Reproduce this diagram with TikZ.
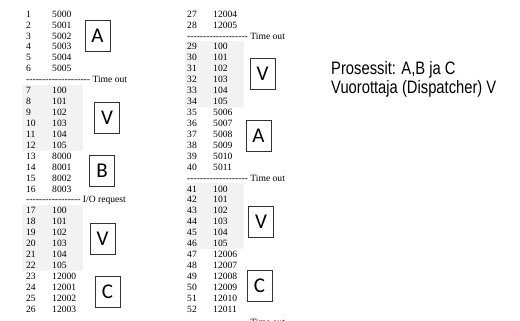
\documentclass[tikz,border=0pt]{standalone}
\usepackage{fontspec}
\newfontfamily\colfont{Liberation Serif}
\newfontfamily\boxfont{Carlito}
\newfontfamily\notefont[FakeStretch=0.82]{Liberation Sans}
\newcommand\hyrow[1]{\foreach \k in {1,...,#1}{-}}
\begin{document}
\begin{tikzpicture}[x=1pt,y=-1pt,
  txt/.style={anchor=west,inner sep=0pt,text height=6.3pt,text depth=0pt,font=\colfont\fontsize{9.6}{10}\selectfont},
  lbox/.style={draw=black!80,line width=0.8pt,minimum width=25pt,minimum height=31pt,inner sep=0pt,font=\boxfont\fontsize{21}{21}\selectfont},
  shade/.style={fill=black!5},
  note/.style={anchor=base west,inner sep=0pt,font=\notefont\fontsize{18}{20}\selectfont}]
\useasboundingbox (0,0) rectangle (520,321);
\def\p{10.93}
% gray backgrounds
\fill[shade] (22,{14+7*\p-5.5}) rectangle (83,{14+12*\p+5.5});
\fill[shade] (22,{14+18*\p-5.5}) rectangle (83,{14+23*\p+5.5});
\fill[shade] (185,{14+3*\p-5.5}) rectangle (244,{14+8*\p+5.5});
\fill[shade] (185,{14+16*\p-5.5}) rectangle (244,{14+21*\p+5.5});
% left column rows
\foreach \i/\n/\v in {0/1/5000,1/2/5001,2/3/5002,3/4/5003,4/5/5004,5/6/5005,
  7/7/100,8/8/101,9/9/102,10/10/103,11/11/104,12/12/105,
  13/13/8000,14/14/8001,15/15/8002,16/16/8003,
  18/17/100,19/18/101,20/19/102,21/20/103,22/21/104,23/22/105,
  24/23/12000,25/24/12001,26/25/12002,27/26/12003}{
  \node[txt] (ln\n) at (26,{14+\i*\p}) {\n};
  \node[txt] (lv\n) at (52,{14+\i*\p}) {\v};
}
\node[txt] (sepA) at (26,{14+6*\p}) {\hyrow{20} Time out};
\node[txt] (sepB) at (26,{14+17*\p}) {\hyrow{17} I/O request};
% right column rows
\foreach \i/\n/\v in {0/27/12004,1/28/12005,
  3/29/100,4/30/101,5/31/102,6/32/103,7/33/104,8/34/105,
  9/35/5006,10/36/5007,11/37/5008,12/38/5009,13/39/5010,14/40/5011,
  16/41/100,17/42/101,18/43/102,19/44/103,20/45/104,21/46/105,
  22/47/12006,23/48/12007,24/49/12008,25/50/12009,26/51/12010,27/52/12011}{
  \node[txt] (rn\n) at (187,{14+\i*\p}) {\n};
  \node[txt] (rv\n) at (213,{14+\i*\p}) {\v};
}
\node[txt] (sepC) at (187,{14+2*\p}) {\hyrow{19} Time out};
\node[txt] (sepD) at (187,{14+15*\p}) {\hyrow{19} Time out};
\node[txt] (sepE) at (187,{16+28*\p}) {\hyrow{19} Time out};
% letter boxes
\node[lbox] (bA1) at (97.5,35.5) {A};
\node[lbox] (bV1) at (107,118) {V};
\node[lbox] (bB) at (102,170.5) {B};
\node[lbox] (bV2) at (102.5,238.5) {V};
\node[lbox] (bC1) at (107.5,292) {C};
\node[lbox] (bV3) at (262.5,73.5) {V};
\node[lbox] (bA2) at (258.5,135.5) {A};
\node[lbox] (bV4) at (261,221.5) {V};
\node[lbox] (bC2) at (259.5,285.5) {C};
% notes
\node[note] (n1) at (331,75) {Prosessit: A,B ja C};
\node[note] (n2) at (331,94) {Vuorottaja (Dispatcher) V};
\end{tikzpicture}
\end{document}
